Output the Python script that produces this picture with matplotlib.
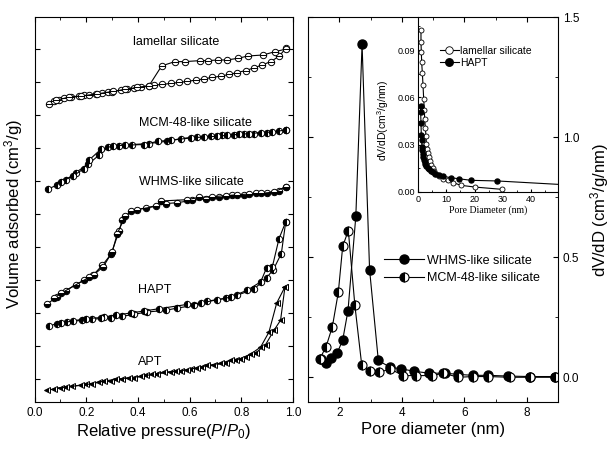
import matplotlib
matplotlib.use("Agg")
import matplotlib.pyplot as plt
from matplotlib.path import Path
from matplotlib.markers import MarkerStyle
from matplotlib.ticker import MultipleLocator

plt.rcParams['font.family'] = ['Liberation Sans', 'DejaVu Sans']
plt.rcParams['mathtext.fontset'] = 'custom'
plt.rcParams['mathtext.rm'] = 'Liberation Sans'
plt.rcParams['mathtext.it'] = 'Liberation Sans:italic'

# ---------------- Left panel: isotherms (offset, arbitrary units) ----------------
lam_ads_p = [0.056, 0.075, 0.095, 0.114, 0.142, 0.172, 0.191, 0.211, 0.237, 0.262, 0.284, 0.301,
             0.333, 0.359, 0.385, 0.411, 0.443, 0.462, 0.495, 0.527, 0.559, 0.591, 0.623, 0.656,
             0.688, 0.720, 0.752, 0.785, 0.817, 0.849, 0.881, 0.914, 0.946, 0.972]
lam_ads_v = [8.35, 8.42, 8.47, 8.51, 8.54, 8.57, 8.60, 8.62, 8.64, 8.66, 8.69, 8.71,
             8.76, 8.79, 8.82, 8.85, 8.89, 8.91, 8.93, 8.96, 8.99, 9.02, 9.06, 9.10,
             9.14, 9.18, 9.23, 9.29, 9.35, 9.43, 9.52, 9.62, 9.78, 10.02]
lam_des_p = [0.973, 0.930, 0.884, 0.826, 0.787, 0.745, 0.710, 0.671, 0.640, 0.582, 0.543, 0.492,
             0.443, 0.398, 0.350, 0.305, 0.240, 0.180, 0.135, 0.085]
lam_des_v = [10.0, 9.92, 9.82, 9.79, 9.72, 9.67, 9.67, 9.65, 9.65, 9.62, 9.62, 9.49,
             8.89, 8.84, 8.78, 8.72, 8.64, 8.58, 8.55, 8.45]

mcm_ads_p = [0.052, 0.086, 0.121, 0.159, 0.207, 0.250, 0.284, 0.327, 0.379, 0.443, 0.514, 0.566,
             0.630, 0.682, 0.727, 0.772, 0.811, 0.849, 0.901, 0.946, 0.972]
mcm_ads_v = [5.76, 5.88, 6.03, 6.26, 6.51, 6.79, 7.03, 7.07, 7.11, 7.14, 7.21, 7.29,
             7.34, 7.36, 7.39, 7.41, 7.42, 7.44, 7.47, 7.52, 7.55]
mcm_des_p = [0.972, 0.920, 0.875, 0.830, 0.791, 0.746, 0.707, 0.656, 0.604, 0.529, 0.478, 0.424,
             0.349, 0.305, 0.256, 0.211, 0.191, 0.150, 0.101]
mcm_des_v = [7.55, 7.49, 7.47, 7.44, 7.42, 7.39, 7.36, 7.34, 7.31, 7.24, 7.21, 7.11,
             7.09, 7.07, 6.96, 6.64, 6.38, 6.16, 5.98]

whms_ads_p = [0.050, 0.086, 0.121, 0.159, 0.192, 0.228, 0.262, 0.297, 0.327, 0.340, 0.372, 0.430,
              0.507, 0.553, 0.611, 0.662, 0.714, 0.765, 0.810, 0.856, 0.901, 0.946, 0.972]
whms_ads_v = [2.29, 2.49, 2.68, 2.87, 3.00, 3.17, 3.45, 3.80, 4.49, 4.82, 5.10, 5.19,
              5.32, 5.35, 5.42, 5.47, 5.53, 5.57, 5.58, 5.63, 5.65, 5.71, 5.83]
whms_des_p = [0.972, 0.926, 0.875, 0.830, 0.785, 0.740, 0.688, 0.636, 0.591, 0.488, 0.469, 0.398,
              0.350, 0.320, 0.300, 0.266, 0.230, 0.211, 0.101, 0.075]
whms_des_v = [5.83, 5.67, 5.63, 5.61, 5.59, 5.56, 5.53, 5.51, 5.44, 5.40, 5.24, 5.14,
              4.95, 4.40, 3.85, 3.41, 3.17, 3.09, 2.60, 2.45]

hapt_ads_p = [0.056, 0.086, 0.127, 0.185, 0.224, 0.295, 0.340, 0.385, 0.436, 0.507, 0.553, 0.617,
              0.669, 0.740, 0.785, 0.849, 0.898, 0.924, 0.955, 0.972]
hapt_ads_v = [1.61, 1.69, 1.74, 1.79, 1.82, 1.87, 1.91, 1.97, 2.04, 2.09, 2.16, 2.24,
              2.37, 2.45, 2.55, 2.73, 3.08, 3.32, 3.81, 4.77]
hapt_des_p = [0.972, 0.946, 0.920, 0.898, 0.875, 0.823, 0.759, 0.707, 0.643, 0.591, 0.482, 0.424,
              0.372, 0.314, 0.269, 0.256, 0.198, 0.150, 0.104]
hapt_des_v = [4.77, 4.26, 3.40, 3.38, 2.95, 2.70, 2.49, 2.41, 2.31, 2.27, 2.14, 2.07,
              2.01, 1.94, 1.89, 1.87, 1.84, 1.77, 1.71]

apt_ads_p = [0.050, 0.101, 0.146, 0.198, 0.250, 0.295, 0.340, 0.385, 0.430, 0.475, 0.527, 0.565,
             0.604, 0.649, 0.694, 0.740, 0.778, 0.817, 0.856, 0.894, 0.926, 0.952, 0.969]
apt_ads_v = [-0.33, -0.25, -0.21, -0.15, -0.08, -0.05, 0.02, 0.05, 0.12, 0.17, 0.22, 0.25,
             0.30, 0.37, 0.43, 0.51, 0.58, 0.67, 0.80, 1.05, 1.48, 1.79, 2.80]
apt_des_p = [0.969, 0.937, 0.907, 0.875, 0.836, 0.797, 0.759, 0.720, 0.669, 0.630, 0.591, 0.546,
             0.501, 0.456, 0.411, 0.366, 0.314, 0.269, 0.224, 0.179, 0.121, 0.075]
apt_des_v = [2.80, 2.31, 1.43, 0.98, 0.76, 0.63, 0.58, 0.49, 0.42, 0.35, 0.29, 0.24,
             0.22, 0.15, 0.09, 0.05, 0.00, -0.05, -0.13, -0.18, -0.23, -0.28]

iso_labels = ["lamellar silicate", "MCM-48-like silicate", "WHMS-like silicate", "HAPT", "APT"]

# ---------------- Right panel: pore size distributions ----------------
whms_d = [1.40, 1.57, 1.75, 1.93, 2.11, 2.28, 2.53, 2.73, 2.97, 3.25, 3.62, 3.99, 4.39, 4.88,
          5.38, 5.81, 6.27, 6.77, 7.41, 8.11, 8.91]
whms_dv = [0.075, 0.060, 0.080, 0.100, 0.155, 0.278, 0.670, 1.386, 0.448, 0.070, 0.042, 0.035,
           0.025, 0.017, 0.017, 0.012, 0.008, 0.008, 0.005, 0.003, 0.003]
mcm_d = [1.38, 1.58, 1.78, 1.97, 2.11, 2.29, 2.50, 2.72, 2.98, 3.28, 3.62, 4.05, 4.46, 4.96,
         5.33, 5.81, 6.29, 6.77, 7.46, 8.10, 8.90]
mcm_dv = [0.077, 0.128, 0.211, 0.354, 0.545, 0.611, 0.299, 0.050, 0.025, 0.020, 0.035, 0.007,
          0.007, 0.007, 0.017, 0.000, 0.003, 0.003, 0.000, 0.000, 0.000]

# inset
lam_d = [1.06, 1.06, 1.18, 1.30, 1.54, 1.77, 2.01, 2.25, 2.36, 2.60, 2.84, 2.96, 3.19, 3.43,
         3.78, 4.14, 4.61, 5.20, 5.79, 6.50, 7.57, 8.87, 10.5, 12.4, 15.3, 20.3, 29.6]
lam_dv = [0.103, 0.095, 0.0888, 0.0824, 0.0755, 0.068, 0.0592, 0.0518, 0.0465, 0.0406, 0.0353,
          0.0307, 0.0275, 0.0247, 0.0222, 0.0197, 0.0173, 0.0152, 0.0133, 0.0116, 0.0099, 0.0084,
          0.0074, 0.0059, 0.0042, 0.0031, 0.0017]
hapt_d = [0.90, 0.95, 1.06, 1.18, 1.30, 1.42, 1.54, 1.65, 1.89, 2.13, 2.36, 2.60, 2.96, 3.43,
          3.90, 4.50, 5.20, 6.15, 7.33, 8.87, 11.5, 14.4, 18.8, 28.0, 60.0]
hapt_dv = [0.0543, 0.0507, 0.0437, 0.0359, 0.0328, 0.0285, 0.0264, 0.0243, 0.0222, 0.0205,
           0.0190, 0.0177, 0.0165, 0.0155, 0.0144, 0.0136, 0.0127, 0.0117, 0.0108, 0.0100,
           0.0091, 0.0084, 0.0074, 0.0070, 0.0038]

# ---------------- figure ----------------
fig = plt.figure(figsize=(6.11, 4.49), dpi=100)
ax1 = fig.add_axes([0.0565, 0.1036, 0.4230, 0.8585])
ax2 = fig.add_axes([0.5041, 0.1036, 0.4092, 0.8585])
axi = fig.add_axes([0.6841, 0.5724, 0.2291, 0.3897])

theta_path = Path.make_compound_path(Path.unit_circle(),
                                     Path([[-1, 0], [1, 0]], [Path.MOVETO, Path.LINETO]))
theta_marker = MarkerStyle(theta_path)

lw = 0.8
ms = 4.6
common = dict(color='black', lw=lw, ms=ms, mec='black', mew=0.7)

for p, v in [(lam_ads_p, lam_ads_v), (lam_des_p, lam_des_v)]:
    ax1.plot(p, v, marker=theta_marker, mfc='white', **common)
for p, v in [(mcm_ads_p, mcm_ads_v), (mcm_des_p, mcm_des_v)]:
    ax1.plot(p, v, marker='o', fillstyle='left', mfc='black', markerfacecoloralt='white', **common)
for p, v in [(whms_ads_p, whms_ads_v), (whms_des_p, whms_des_v)]:
    ax1.plot(p, v, marker='o', fillstyle='bottom', mfc='black', markerfacecoloralt='white', **common)
for p, v in [(hapt_ads_p, hapt_ads_v), (hapt_des_p, hapt_des_v)]:
    ax1.plot(p, v, marker='o', fillstyle='left', mfc='black', markerfacecoloralt='white', **common)
for p, v in [(apt_ads_p, apt_ads_v), (apt_des_p, apt_des_v)]:
    ax1.plot(p, v, marker='<', fillstyle='left', mfc='black', markerfacecoloralt='white', **common)

label_pos = [(0.547, 10.21), (0.621, 7.76), (0.605, 5.97), (0.466, 2.70), (0.447, 0.52)]
for txt, (x, y) in zip(iso_labels, label_pos):
    ax1.text(x, y, txt, fontsize=9, ha='center', va='center')

ax1.set_xlim(0, 1.0)
ax1.set_ylim(-0.7, 10.97)
ax1.xaxis.set_major_locator(MultipleLocator(0.2))
ax1.xaxis.set_minor_locator(MultipleLocator(0.1))
ax1.xaxis.set_major_formatter(matplotlib.ticker.FormatStrFormatter('%.1f'))
ax1.yaxis.set_major_locator(MultipleLocator(1))
ax1.tick_params(which='both', direction='in', top=True, right=True, labelsize=8.5)
ax1.tick_params(which='major', length=3.5)
ax1.tick_params(which='minor', length=2.5)
ax1.set_yticklabels([])
ax1.set_xlabel('Relative pressure($P/P_0$)', fontsize=12, labelpad=2)
ax1.set_ylabel('Volume adsorbed (cm$^3$/g)', fontsize=12)
ax1.yaxis.set_label_coords(-0.035, 0.49)

# right panel
ax2.plot(whms_d, whms_dv, marker='o', mfc='black', color='black', lw=lw, ms=6.5, mec='black',
         label='WHMS-like silicate')
ax2.plot(mcm_d, mcm_dv, marker='o', fillstyle='left', mfc='black', markerfacecoloralt='white',
         color='black', lw=lw, ms=6.5, mec='black', mew=0.8, label='MCM-48-like silicate')
ax2.set_xlim(1, 9)
ax2.set_ylim(-0.105, 1.5)
ax2.xaxis.set_major_locator(MultipleLocator(2))
ax2.xaxis.set_minor_locator(MultipleLocator(1))
ax2.yaxis.set_major_locator(MultipleLocator(0.5))
ax2.yaxis.set_minor_locator(MultipleLocator(0.25))
ax2.yaxis.set_major_formatter(matplotlib.ticker.FormatStrFormatter('%.1f'))
ax2.tick_params(which='both', direction='in', top=True, right=True, left=True, bottom=True,
                labelleft=False, labelright=True, labelsize=8.5)
ax2.tick_params(which='major', length=3.5)
ax2.tick_params(which='minor', length=2.5)
ax2.yaxis.set_label_position('right')
ax2.set_xlabel('Pore diameter (nm)', fontsize=12, labelpad=2)
ax2.set_ylabel('dV/dD (cm$^3$/g/nm)', fontsize=12, labelpad=6)
ax2.legend(loc='upper left', bbox_to_anchor=(0.28, 0.40), frameon=False, fontsize=9,
           handlelength=3.2, handletextpad=0.25, labelspacing=0.45, borderpad=0)

# inset
axi.patch.set_alpha(0.0)
axi.plot(lam_d, lam_dv, marker='o', mfc='white', color='black', lw=lw, ms=3.6, mec='black',
         mew=0.6, label='lamellar silicate')
axi.plot(hapt_d, hapt_dv, marker='o', mfc='black', color='black', lw=lw, ms=3.6, mec='black',
         label='HAPT')
axi.set_xlim(0, 49.5)
axi.set_ylim(0, 0.111)
axi.xaxis.set_major_locator(MultipleLocator(10))
axi.xaxis.set_minor_locator(MultipleLocator(5))
axi.yaxis.set_major_locator(MultipleLocator(0.03))
axi.yaxis.set_minor_locator(MultipleLocator(0.015))
axi.yaxis.set_major_formatter(matplotlib.ticker.FormatStrFormatter('%.2f'))
axi.spines['top'].set_visible(False)
axi.spines['right'].set_visible(False)
axi.tick_params(which='both', direction='in', top=False, right=False, labelsize=6.5, pad=2)
axi.tick_params(which='major', length=2.5)
axi.tick_params(which='minor', length=1.5)
axi.set_xlabel('Pore Diameter (nm)', fontsize=7, family='Liberation Serif', labelpad=1)
axi.set_ylabel('dV/dD(cm$^3$/g/nm)', fontsize=7.5)
axi.yaxis.set_label_coords(-0.19, 0.41)
axi.legend(loc='upper left', bbox_to_anchor=(0.12, 0.865), frameon=False, fontsize=7.5,
           handlelength=1.8, handletextpad=0.1, labelspacing=0.2, borderpad=0,
           markerscale=1.5)

fig.savefig('out.png', dpi=100)
